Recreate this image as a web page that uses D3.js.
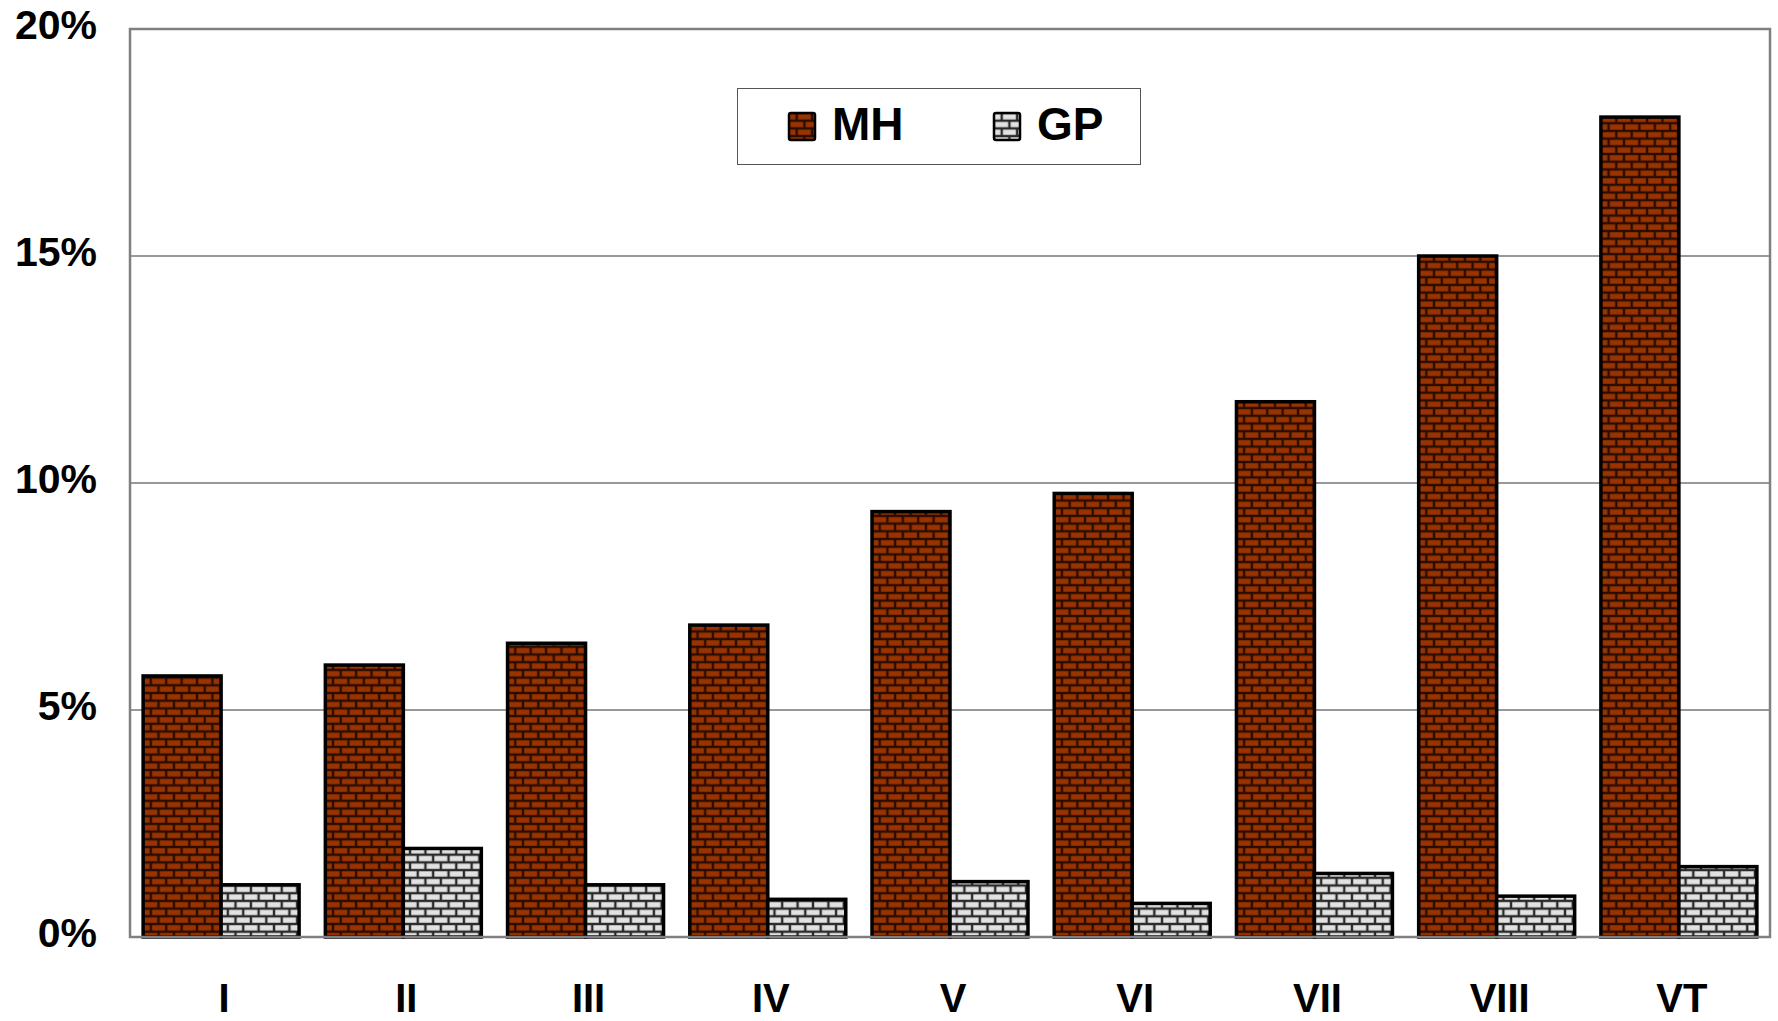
<!DOCTYPE html>
<html>
<head>
<meta charset="utf-8">
<script src="https://cdn.jsdelivr.net/npm/d3@7"></script>
<style>
  html, body { margin: 0; padding: 0; background: #fff; }
  svg { display: block; font-family: 'Liberation Sans', Arial, sans-serif; font-weight: bold; }
</style>
</head>
<body>
<div id="chart"></div>
<script>
'use strict';

const categories = ['I', 'II', 'III', 'IV', 'V', 'VI', 'VII', 'VIII', 'VT'];
const seriesNames = ['MH', 'GP'];
const mhValues = [5.75, 5.99, 6.47, 6.87, 9.37, 9.77, 11.79, 15.0, 18.06];
const gpValues = [1.15, 1.95, 1.15, 0.83, 1.22, 0.74, 1.40, 0.90, 1.55];
const yTicks = [0, 5, 10, 15, 20];

const width = 1778;
const height = 1021;
const margin = { top: 29, right: 8, bottom: 84, left: 130 };

const svg = d3.select('#chart')
  .append('svg')
  .attr('width', width)
  .attr('height', height);

const defs = svg.append('defs');

// brick fill, one per series
const makeBricks = (id, mortar, brick) => {
  const w = 15.4;
  const h = 15.4;
  const p = defs.append('pattern')
    .attr('id', id)
    .attr('patternUnits', 'userSpaceOnUse')
    .attr('width', w)
    .attr('height', h);
  p.append('rect').attr('width', w).attr('height', h).attr('fill', mortar);
  const rows = [
    { y: 0, offs: [-w / 2, w / 2] },
    { y: h / 2, offs: [0, w] },
  ];
  rows.forEach((r) => {
    r.offs.forEach((x) => {
      p.append('rect')
        .attr('x', x + 1.2)
        .attr('y', r.y + 1.2)
        .attr('width', w - 2.4)
        .attr('height', h / 2 - 2.4)
        .attr('fill', brick);
    });
  });
};
makeBricks('brick-mh', '#2b0c00', '#993300');
makeBricks('brick-gp', '#2a2a2a', '#e2e2e2');

const fills = { MH: 'url(#brick-mh)', GP: 'url(#brick-gp)' };

const x = d3.scaleBand()
  .domain(categories)
  .range([margin.left, width - margin.right])
  .paddingInner(0.144)
  .paddingOuter(0.072);

const xSub = d3.scaleBand()
  .domain(seriesNames)
  .range([0, x.bandwidth()]);

const y = d3.scaleLinear()
  .domain([0, 20])
  .range([height - margin.bottom, margin.top]);

// gridlines
svg.append('g')
  .selectAll('line')
  .data(yTicks.filter((t) => t > 0 && t < 20))
  .join('line')
  .attr('x1', margin.left)
  .attr('x2', width - margin.right)
  .attr('y1', (d) => y(d))
  .attr('y2', (d) => y(d))
  .attr('stroke', '#333')
  .attr('stroke-width', 1);

// bars
const rows = categories.map((c, i) => ({ cat: c, MH: mhValues[i], GP: gpValues[i] }));

svg.append('g')
  .selectAll('g')
  .data(rows)
  .join('g')
  .attr('transform', (d) => `translate(${x(d.cat)},0)`)
  .selectAll('rect')
  .data((d) => seriesNames.map((s) => ({ s, v: d[s] })))
  .join('rect')
  .attr('x', (d) => xSub(d.s))
  .attr('y', (d) => y(d.v))
  .attr('width', xSub.bandwidth())
  .attr('height', (d) => y(0) - y(d.v))
  .attr('fill', (d) => fills[d.s])
  .attr('stroke', '#000')
  .attr('stroke-width', 3.5);

// plot frame
svg.append('rect')
  .attr('x', margin.left)
  .attr('y', margin.top)
  .attr('width', width - margin.left - margin.right)
  .attr('height', height - margin.top - margin.bottom)
  .attr('fill', 'none')
  .attr('stroke', '#808080')
  .attr('stroke-width', 2.5);

// y tick labels
svg.append('g')
  .selectAll('text')
  .data(yTicks)
  .join('text')
  .attr('x', margin.left - 33)
  .attr('y', (d) => y(d) + 10)
  .attr('text-anchor', 'end')
  .attr('font-size', '41px')
  .attr('fill', '#000')
  .text((d) => `${d}%`);

// x labels
svg.append('g')
  .selectAll('text')
  .data(categories)
  .join('text')
  .attr('x', (d) => x(d) + x.bandwidth() / 2 + 3)
  .attr('y', 1012)
  .attr('text-anchor', 'middle')
  .attr('font-size', '40px')
  .attr('fill', '#000')
  .text((d) => d);

// legend
const legend = svg.append('g');
legend.append('rect')
  .attr('x', 737.5)
  .attr('y', 88.5)
  .attr('width', 403)
  .attr('height', 76)
  .attr('fill', '#fff')
  .attr('stroke', '#555')
  .attr('stroke-width', 1);

const legendX = [789, 994];
const legendItems = legend.selectAll('g')
  .data(seriesNames)
  .join('g')
  .attr('transform', (d, i) => `translate(${legendX[i]},113)`);

legendItems.append('rect')
  .attr('width', 26)
  .attr('height', 27)
  .attr('rx', 2)
  .attr('fill', (d) => fills[d])
  .attr('stroke', '#000')
  .attr('stroke-width', 2.5);

legendItems.append('text')
  .attr('x', 43)
  .attr('y', 27)
  .attr('font-size', '46px')
  .attr('fill', '#000')
  .text((d) => d);
</script>
</body>
</html>
